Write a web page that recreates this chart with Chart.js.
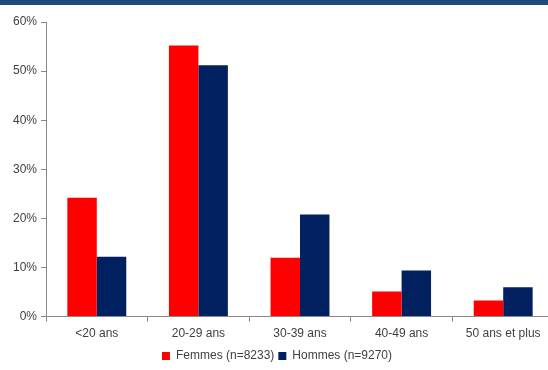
<!DOCTYPE html>
<html>
<head>
<meta charset="utf-8">
<script src="https://cdn.jsdelivr.net/npm/chart.js@4"></script>
<style>
  html, body { margin: 0; padding: 0; background: #fff; overflow: hidden; }
  #topbar { height: 5px; background: #1f497d; width: 548px; }
  #wrap { position: relative; width: 562px; height: 367px; }
</style>
</head>
<body>
<div id="topbar"></div>
<div id="wrap"><canvas id="ageChart"></canvas></div>
<script>
const categories = ['<20 ans', '20-29 ans', '30-39 ans', '40-49 ans', '50 ans et plus'];
const femmes = [24.2, 55.2, 12.0, 5.1, 3.3];
const hommes = [12.2, 51.2, 20.8, 9.4, 6.0];
const seriesLabels = ['Femmes (n=8233)', 'Hommes (n=9270)'];
const yTicks = [0, 10, 20, 30, 40, 50, 60];

document.addEventListener('DOMContentLoaded', function() {
    const ctx = document.getElementById('ageChart');
    Chart.defaults.font.family = '"Liberation Sans", Arial, sans-serif';
    Chart.defaults.font.size = 12;
    Chart.defaults.color = '#404040';

    new Chart(ctx.getContext('2d'), {
        type: 'bar',
        data: {
            labels: categories,
            datasets: [
                { label: seriesLabels[0], data: femmes, backgroundColor: '#ff0000', borderWidth: 0 },
                { label: seriesLabels[1], data: hommes, backgroundColor: '#002060', borderWidth: 0 }
            ]
        },
        options: {
            responsive: true,
            maintainAspectRatio: false,
            animation: false,
            categoryPercentage: 0.58,
            barPercentage: 1.0,
            layout: { padding: { top: 17, right: 8, left: 0, bottom: 0 } },
            plugins: {
                tooltip: { enabled: false },
                legend: {
                    position: 'bottom',
                    labels: {
                        boxWidth: 8,
                        boxHeight: 8,
                        padding: 4,
                        color: '#404040'
                    }
                }
            },
            scales: {
                y: {
                    min: 0,
                    max: 60,
                    afterBuildTicks: function(scale) {
                        scale.ticks = yTicks.map(v => ({ value: v }));
                    },
                    afterFit: function(scale) { scale.width = 46; },
                    ticks: {
                        padding: 4,
                        callback: v => v + '%'
                    },
                    grid: { drawOnChartArea: false, tickLength: 5, color: '#888' },
                    border: { color: '#888' }
                },
                x: {
                    ticks: { padding: 5 },
                    grid: { drawOnChartArea: false, tickLength: 5, color: '#888', offset: true },
                    border: { color: '#888' }
                }
            }
        }
    });
});
</script>
</body>
</html>
